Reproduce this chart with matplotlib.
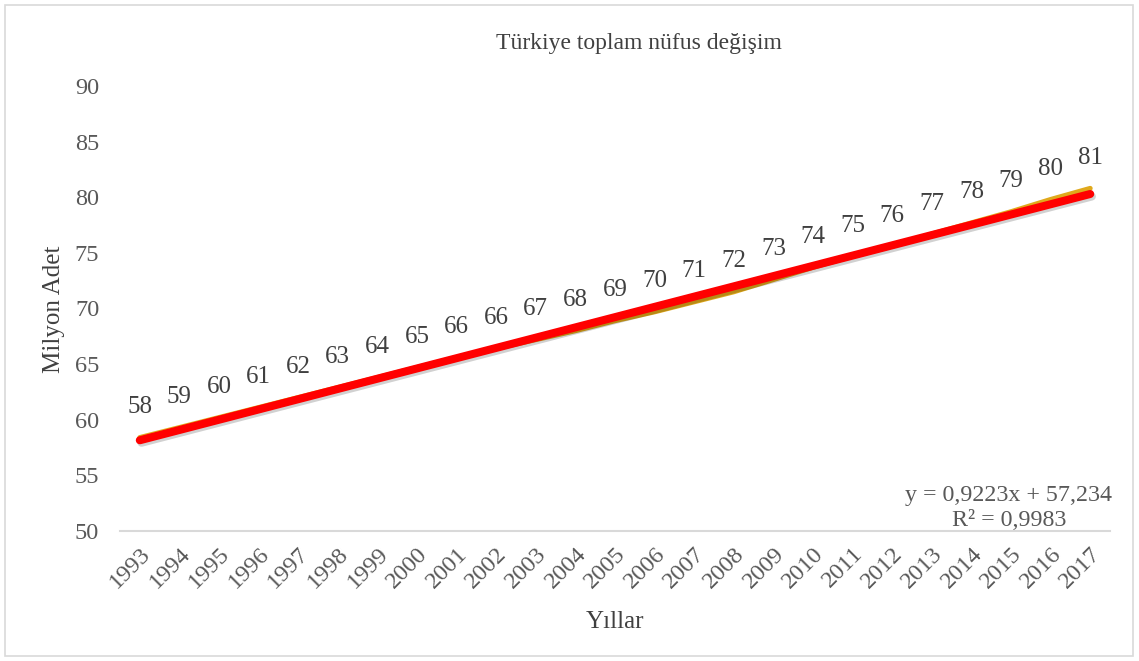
import matplotlib
matplotlib.use("Agg")
import matplotlib.pyplot as plt
import matplotlib.patheffects as pe
from matplotlib.patches import Rectangle
import numpy as np

years = ["1993", "1994", "1995", "1996", "1997", "1998", "1999", "2000", "2001", "2002",
         "2003", "2004", "2005", "2006", "2007", "2008", "2009", "2010", "2011", "2012",
         "2013", "2014", "2015", "2016", "2017"]
population = [58.4, 59.3, 60.2, 61.1, 62.0, 62.9, 63.8, 64.7, 65.6, 66.4,
              67.2, 68.0, 68.9, 69.7, 70.6, 71.5, 72.6, 73.7, 74.7, 75.6,
              76.7, 77.7, 78.7, 79.8, 80.8]
labels = ["58", "59", "60", "61", "62", "63", "64", "65", "66", "66",
          "67", "68", "69", "70", "71", "72", "73", "74", "75", "76",
          "77", "78", "79", "80", "81"]
trend_slope = 0.9223
trend_intercept = 57.234
yticks = [50, 55, 60, 65, 70, 75, 80, 85, 90]

plt.rcParams['font.family'] = ['Liberation Serif', 'DejaVu Serif']
txt = '#404040'
tick_c = '#595959'

fig = plt.figure(figsize=(11.39, 6.61), dpi=100)
ax = fig.add_axes([120/1139, 1-531/661, 990/1139, 445/661])

x = np.arange(len(years))
ax.plot(x, population, color='#E0A91C', lw=3.6, solid_capstyle='round', zorder=3)
trend = trend_slope * (x + 1) + trend_intercept
ax.plot(x, trend, color='#FF0000', lw=5.8, solid_capstyle='round', zorder=4,
        path_effects=[pe.SimpleLineShadow(offset=(1.2, -1.8), shadow_color='black', alpha=0.18),
                      pe.Normal()])

for xi, yi, lab in zip(x, population, labels):
    ax.annotate(lab, (xi, yi), xytext=(0, 14), textcoords='offset points',
                ha='center', va='bottom', fontsize=18, color=txt)

ax.set_xlim(-0.5, len(years) - 0.5)
ax.set_ylim(50, 90)
ax.set_yticks(yticks)
ax.set_xticks(x)
ax.set_xticklabels(years, rotation=45, ha='right', rotation_mode='anchor')
ax.tick_params(axis='both', length=0, labelsize=17.5, labelcolor=tick_c)
ax.tick_params(axis='y', pad=15)
ax.tick_params(axis='x', pad=9)
for s in ['top', 'right', 'left']:
    ax.spines[s].set_visible(False)
ax.spines['bottom'].set_color('#D9D9D9')
ax.spines['bottom'].set_linewidth(1.5)

fig.text(54/1139, 1-309/661, 'Milyon Adet', fontsize=18, color=txt, rotation=90,
         ha='center', va='center')
fig.text(615/1139, 1-622/661, 'Yıllar', fontsize=18, color=txt, ha='center', va='center')
fig.text(639/1139, 1-43/661, 'Türkiye toplam nüfus değişim', fontsize=17, color=txt,
         ha='center', va='center')
fig.text(1112/1139, 1-495/661, 'y = 0,9223x + 57,234',
         fontsize=17.3, color=tick_c, ha='right', va='center')
fig.text(1066/1139, 1-521/661, 'R² = 0,9983',
         fontsize=17.3, color=tick_c, ha='right', va='center')

fig.patches.append(Rectangle((5/1139, 5/661), 1128/1139, 651/661, transform=fig.transFigure,
                             fill=False, edgecolor='#D9D9D9', lw=1.2))

fig.savefig('out.png', dpi=100)
